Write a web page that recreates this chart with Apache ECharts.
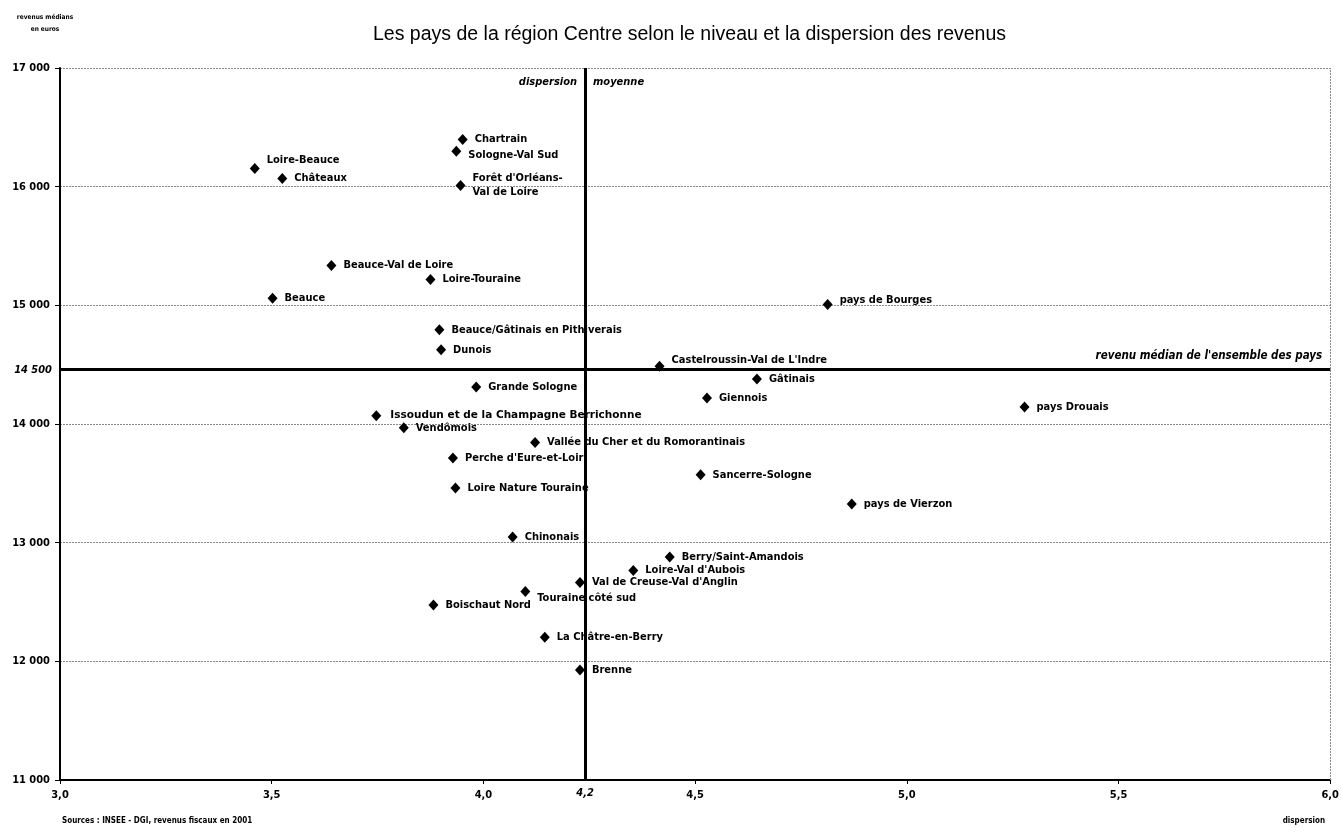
<!DOCTYPE html>
<html>
<head>
<meta charset="utf-8">
<script src="https://cdn.jsdelivr.net/npm/echarts@6/dist/echarts.min.js"></script>
<style>
  html, body { margin: 0; padding: 0; background: #fff; }
  #chart { width: 1342px; height: 832px; }
</style>
</head>
<body>
<div id="chart"></div>
<script>
// pays de la région Centre : dispersion (x) / revenu médian en euros (y)
const pays = [
  'Loire-Beauce', 'Châteaux', 'Chartrain', 'Sologne-Val Sud', "Forêt d'Orléans-\nVal de Loire",
  'Beauce-Val de Loire', 'Loire-Touraine', 'Beauce', 'Beauce/Gâtinais en Pithiverais', 'Dunois',
  'Issoudun et de la Champagne Berrichonne', 'Vendômois', 'pays de Bourges', "Castelroussin-Val de L'Indre",
  'Gâtinais', 'Giennois', 'Grande Sologne', 'Vallée du Cher et du Romorantinais', "Perche d'Eure-et-Loir",
  'Loire Nature Touraine', 'Sancerre-Sologne', 'pays de Vierzon', 'pays Drouais', 'Chinonais',
  'Berry/Saint-Amandois', "Loire-Val d'Aubois", "Val de Creuse-Val d'Anglin", 'Touraine côté sud',
  'Boischaut Nord', 'La Châtre-en-Berry', 'Brenne'
];
const dispersion = [
  3.46, 3.525, 3.951, 3.936, 3.946,
  3.641, 3.875, 3.502, 3.896, 3.900,
  3.747, 3.812, 4.813, 4.416,
  4.646, 4.528, 3.983, 4.122, 3.928,
  3.934, 4.513, 4.870, 5.278, 4.069,
  4.440, 4.354, 4.228, 4.099,
  3.882, 4.145, 4.228
];
const revenu = [
  16153, 16068, 16397, 16299, 16009,
  15335, 15217, 15059, 14795, 14626,
  14070, 13969, 15006, 14486,
  14379, 14219, 14312, 13845, 13713,
  13460, 13573, 13325, 14143, 13047,
  12879, 12766, 12664, 12589,
  12474, 12204, 11928
];
// lignes de référence telles que tracées
const dispersionMoyenne = 4.24;
const revenuMedian = 14458;
const xTicks = [3, 6, 0.5];
const yTicks = [11000, 17000, 1000];

const font = "'Liberation Sans Narrow', 'DejaVu Sans Condensed', 'Arial Narrow', sans-serif";

// petits ajustements d'étiquettes
const labelTweaks = {
  'Loire-Beauce': { offset: [0, -8] },
  'Sologne-Val Sud': { offset: [0, 4] },
  "Castelroussin-Val de L'Indre": { offset: [0, -6] },
  'Touraine côté sud': { offset: [0, 7] },
  'pays de Bourges': { offset: [0, -4] },
  'Issoudun et de la Champagne Berrichonne': { distance: 9, fontFamily: "'DejaVu Sans', sans-serif", fontSize: 10.5 }
};

const data = pays.map((n, i) => {
  const d = { name: n, value: [dispersion[i], revenu[i]] };
  if (labelTweaks[n]) d.label = labelTweaks[n];
  return d;
});

const fmtY = v => String(v).replace(/(\d+)(\d{3})$/, '$1 $2');

let chart = echarts.init(document.getElementById('chart'));
let option = {
  animation: false,
  backgroundColor: '#fff',
  title: [
    {
      text: 'Les pays de la région Centre selon le niveau et la dispersion des revenus',
      left: 368, top: 20,
      textStyle: { fontFamily: "'Liberation Sans', sans-serif", fontSize: 19.5, fontWeight: 'normal', color: '#000' }
    },
    {
      text: 'revenus médians\nen euros',
      left: 40, top: 6, textAlign: 'center',
      textStyle: { fontFamily: font, fontSize: 6.5, fontWeight: 'bold', color: '#000', lineHeight: 12 }
    },
    {
      text: 'Sources : INSEE - DGI, revenus fiscaux en 2001',
      left: 57, bottom: 2,
      textStyle: { fontFamily: font, fontSize: 8, fontWeight: 'bold', color: '#000' }
    },
    {
      text: 'dispersion',
      right: 12, bottom: 2,
      textStyle: { fontFamily: font, fontSize: 8, fontWeight: 'bold', color: '#000' }
    }
  ],
  grid: { left: 60, right: 9, top: 68, bottom: 52 },
  xAxis: {
    type: 'value',
    min: xTicks[0], max: xTicks[1], interval: xTicks[2],
    axisLine: { lineStyle: { color: '#000', width: 2 } },
    axisTick: { length: 4, lineStyle: { color: '#000' } },
    splitLine: { show: false },
    axisLabel: {
      margin: 10,
      fontFamily: font, fontSize: 11, fontWeight: 'bold', color: '#000',
      formatter: v => v.toFixed(1).replace('.', ',')
    }
  },
  yAxis: {
    type: 'value',
    min: yTicks[0], max: yTicks[1], interval: yTicks[2],
    axisLine: { show: true, lineStyle: { color: '#000', width: 2 } },
    axisTick: { show: true, length: 5, lineStyle: { color: '#000' } },
    splitLine: { lineStyle: { type: [2, 1], color: '#888', width: 1 } },
    axisLabel: {
      margin: 10,
      fontFamily: font, fontSize: 11, fontWeight: 'bold', color: '#000',
      formatter: fmtY
    }
  },
  series: [
    {
      type: 'scatter',
      data: data,
      symbol: 'diamond',
      symbolSize: [10, 11],
      itemStyle: { color: '#000', opacity: 1 },
      label: {
        show: true,
        position: 'right',
        distance: 7,
        formatter: '{b}',
        fontFamily: font, fontSize: 11, fontWeight: 'bold', color: '#000', lineHeight: 14
      },
      markLine: {
        silent: true,
        symbol: 'none',
        lineStyle: { color: '#000', width: 3, type: 'solid' },
        data: [
          { xAxis: dispersionMoyenne,
            label: { position: 'start', distance: 8, formatter: '4,2', fontFamily: font, fontSize: 11, fontWeight: 'bold', fontStyle: 'italic', color: '#000' } },
          { yAxis: revenuMedian,
            label: { position: 'start', distance: 8, formatter: '14 500', fontFamily: font, fontSize: 11, fontWeight: 'bold', fontStyle: 'italic', color: '#000' } },
          { yAxis: revenuMedian,
            label: { position: 'insideEndTop', distance: 8, formatter: "revenu médian de l'ensemble des pays", fontFamily: font, fontSize: 11.5, fontWeight: 'bold', fontStyle: 'italic', color: '#000' } },
          { xAxis: xTicks[1], lineStyle: { color: '#888', width: 1, type: [2, 1] }, label: { show: false } }
        ]
      },
      markPoint: {
        silent: true,
        symbol: 'circle',
        symbolSize: 0,
        data: [
          { coord: [dispersionMoyenne, 16880],
            label: { position: 'left', distance: 8, formatter: 'dispersion', fontFamily: font, fontSize: 11, fontWeight: 'bold', fontStyle: 'italic', color: '#000' } },
          { coord: [dispersionMoyenne, 16880],
            label: { position: 'right', distance: 8, formatter: 'moyenne', fontFamily: font, fontSize: 11, fontWeight: 'bold', fontStyle: 'italic', color: '#000' } }
        ]
      }
    }
  ]
};
chart.setOption(option);
</script>
</body>
</html>
